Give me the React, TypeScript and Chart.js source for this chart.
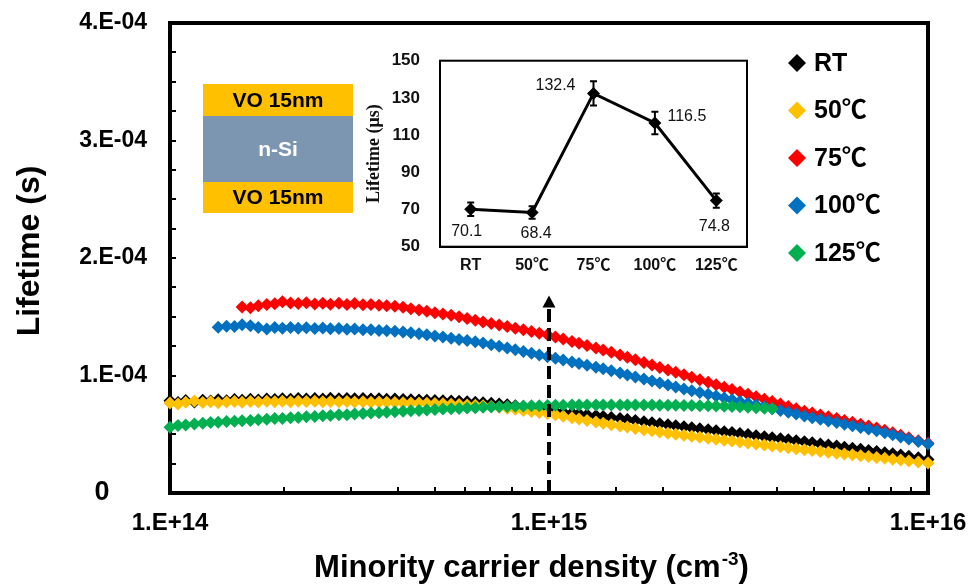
import React, { useEffect, useRef } from 'react';
import { Chart, registerables } from 'chart.js';

Chart.register(...registerables);

const FONT = "'Liberation Sans', Arial, 'Noto Sans CJK KR', sans-serif";
const SERIF = "'Liberation Serif', 'Times New Roman', serif";
Chart.defaults.font.family = FONT;

// Minority carrier density, in units of 1e14 cm^-3
const DENSITY = [
  1.00, 1.05, 1.10, 1.16, 1.22, 1.28, 1.34, 1.41, 1.48, 1.55,
  1.63, 1.71, 1.80, 1.89, 1.98, 2.08, 2.18, 2.29, 2.41, 2.53,
  2.65, 2.79, 2.93, 3.07, 3.23, 3.39, 3.56, 3.73, 3.92, 4.12,
  4.32, 4.54, 4.76, 5.00, 5.25, 5.52, 5.79, 6.08, 6.39, 6.70,
  7.04, 7.39, 7.76, 8.15, 8.56, 8.99, 9.43, 9.91, 10.4, 10.9,
  11.5, 12.0, 12.6, 13.3, 13.9, 14.6, 15.4, 16.1, 16.9, 17.8,
  18.7, 19.6, 20.6, 21.6, 22.7, 23.8, 25.0, 26.3, 27.6, 29.0,
  30.4, 31.9, 33.5, 35.2, 37.0, 38.8, 40.8, 42.8, 44.9, 47.2,
  49.5, 52.0, 54.6, 57.4, 60.2, 63.2, 66.4, 69.7, 73.2, 76.9,
  80.7, 84.7, 89.0, 94.3, 100,
];

// Lifetimes in microseconds (axis shows seconds)
const LIFETIME_RT = [
  78.5, 77.0, 78.8, 77.5, 79.0, 78.2, 79.4, 78.5, 79.6, 78.9,
  79.8, 79.2, 80.1, 79.5, 80.3, 79.8, 80.4, 80.0, 80.5, 80.1,
  80.6, 80.2, 80.5, 80.2, 80.4, 80.0, 80.2, 79.8, 79.9, 79.6,
  79.4, 79.2, 79.0, 78.8, 78.6, 78.3, 78.0, 77.7, 77.3, 76.9,
  76.3, 75.8, 75.1, 74.3, 73.4, 72.4, 71.4, 70.3, 69.5, 68.8,
  68.0, 67.4, 66.6, 65.8, 65.1, 64.3, 63.3, 62.5, 61.6, 60.7,
  59.8, 58.9, 58.0, 57.2, 56.4, 55.6, 54.7, 53.9, 53.0, 52.2,
  51.4, 50.6, 49.7, 48.8, 47.9, 47.1, 46.2, 45.3, 44.5, 43.6,
  42.7, 41.8, 40.9, 39.9, 39.0, 38.1, 37.2, 36.2, 35.3, 34.3,
  33.4, 32.4, 31.2, 29.9, 28.5,
];

const LIFETIME_50 = [
  76.5, 75.8, 77.2, 78.4, 77.0, 77.6, 76.8, 77.5, 77.9, 77.2,
  77.8, 77.4, 78.0, 77.6, 78.1, 77.7, 78.0, 77.8, 78.1, 77.7,
  77.9, 77.6, 77.8, 77.5, 77.6, 77.3, 77.4, 77.2, 77.1, 76.9,
  76.7, 76.5, 76.3, 76.1, 75.9, 75.6, 75.3, 75.0, 74.7, 74.3,
  73.6, 72.9, 72.1, 71.2, 70.3, 69.4, 68.5, 67.6, 66.5, 65.4,
  64.0, 63.0, 61.8, 60.4, 59.3, 58.1, 57.0, 56.1, 55.0, 53.9,
  52.9, 51.9, 50.8, 49.9, 49.1, 48.3, 47.5, 46.6, 45.8, 45.0,
  44.2, 43.4, 42.6, 41.8, 40.9, 40.1, 39.3, 38.5, 37.7, 36.9,
  36.1, 35.4, 34.7, 33.9, 33.2, 32.5, 31.7, 31.0, 30.3, 29.5,
  28.8, 28.0, 27.3, 26.4, 25.5,
];

const LIFETIME_75 = [
  null, null, null, null, null, null, null, null, null, 158.3,
  157.6, 159.3, 160.4, 161.0, 162.8, 161.6, 161.2, 162.0, 160.8, 161.5,
  160.6, 161.4, 160.5, 161.2, 160.3, 160.4, 159.7, 159.4, 158.9, 158.0,
  156.9, 155.8, 154.7, 153.5, 152.4, 151.3, 150.0, 148.6, 147.1, 145.6,
  144.2, 142.9, 141.6, 140.3, 138.9, 137.4, 136.0, 134.6, 132.8, 131.0,
  129.0, 127.4, 125.6, 123.5, 121.8, 119.8, 117.5, 115.5, 113.4, 111.1,
  109.0, 106.9, 104.7, 102.7, 100.6, 98.5, 96.4, 94.2, 92.2, 90.0,
  88.0, 86.0, 84.0, 81.9, 79.8, 77.8, 75.7, 73.7, 71.7, 69.6,
  68.0, 66.4, 64.9, 63.3, 61.7, 60.2, 58.6, 57.0, 55.4, 53.3,
  51.2, 49.1, 47.0, 44.5, 42.4,
];

const LIFETIME_100 = [
  null, null, null, null, null, null, 141.0, 142.0, 141.6, 143.2,
  142.4, 140.8, 139.6, 140.9, 140.2, 140.8, 140.3, 140.6, 140.1, 140.4,
  139.8, 140.1, 139.4, 139.5, 138.9, 138.9, 138.3, 138.1, 137.6, 137.1,
  136.3, 135.5, 134.6, 133.7, 132.7, 131.7, 130.7, 129.7, 128.7, 127.6,
  126.2, 124.8, 123.4, 122.0, 120.5, 119.0, 117.5, 116.0, 114.6, 113.1,
  111.5, 110.2, 108.7, 107.1, 105.7, 104.0, 102.1, 100.5, 98.8, 97.0,
  95.3, 93.6, 91.9, 90.2, 88.6, 87.1, 85.6, 84.0, 82.5, 80.9,
  79.4, 77.9, 76.4, 74.8, 73.3, 71.8, 70.2, 68.7, 67.2, 65.6,
  64.1, 62.7, 61.3, 59.9, 58.5, 57.2, 55.8, 54.4, 53.0, 51.2,
  49.5, 47.7, 45.9, 43.8, 41.7,
];

const LIFETIME_125 = [
  56.0, 57.5, 57.9, 58.8, 59.3, 59.9, 60.2, 60.8, 61.0, 61.5,
  61.8, 62.4, 62.7, 63.3, 63.5, 64.1, 64.3, 64.9, 65.2, 65.7,
  65.9, 66.5, 66.7, 67.2, 67.6, 68.0, 68.4, 68.8, 69.1, 69.6,
  69.9, 70.3, 70.7, 71.0, 71.4, 71.6, 72.0, 72.3, 72.6, 72.9,
  73.1, 73.4, 73.6, 73.8, 74.0, 74.2, 74.3, 74.5, 74.6, 74.7,
  74.8, 74.8, 74.9, 74.9, 74.9, 75.0, 74.9, 74.9, 74.9, 74.8,
  74.8, 74.7, 74.7, 74.6, 74.5, 74.4, 74.3, 74.2, 74.0, 73.8,
  73.6, 73.3, 73.0, 72.6, 72.1, 71.6, null, null, null, null,
  null, null, null, null, null, null, null, null, null, null,
  null, null, null, null, null,
];

const SERIES_LABELS = ['RT', '50℃', '75℃', '100℃', '125℃'];
const SERIES_VALUES = [LIFETIME_RT, LIFETIME_50, LIFETIME_75, LIFETIME_100, LIFETIME_125];
const SERIES_COLORS = ['#000000', '#FFC000', '#FF0000', '#0070C0', '#00B050'];
const SERIES_ORDER = [5, 3, 4, 2, 1];

const X_MIN = 1e14;
const X_MAX = 1e16;
const Y_MIN = 0;
const Y_MAX = 400; // µs
const Y_STEP = 25;
const ARROW_X = 1e15;
const ARROW_TOP = 168; // µs

// Inset
const INSET_CATEGORIES = ['RT', '50℃', '75℃', '100℃', '125℃'];
const INSET_VALUES = [70.1, 68.4, 132.4, 116.5, 74.8];
const INSET_ERRORS = [3.6, 3.4, 6.5, 6.0, 3.8];
const INSET_Y_MIN = 50;
const INSET_Y_MAX = 150;
const INSET_Y_STEP = 20;

const LAYERS = ['VO 15nm', 'n-Si', 'VO 15nm'];

const mainDecor = {
  id: 'mainDecor',
  beforeDatasetsDraw(chart: any) {
    const { ctx, chartArea: a } = chart;
    ctx.save();
    ctx.strokeStyle = '#000';
    ctx.lineWidth = 4;
    ctx.beginPath();
    ctx.moveTo(a.left - 2, a.top);
    ctx.lineTo(a.right, a.top);
    ctx.lineTo(a.right, a.bottom + 2);
    ctx.stroke();

    // layer stack diagram
    const lx = 203, lw = 150;
    const rows = [
      { y: 84, h: 32, fill: '#FFC000', text: '#000' },
      { y: 116, h: 66, fill: '#7C96B2', text: '#fff' },
      { y: 182, h: 31, fill: '#FFC000', text: '#000' },
    ];
    ctx.font = `bold 21px ${FONT}`;
    ctx.textAlign = 'center';
    ctx.textBaseline = 'middle';
    rows.forEach((r, i) => {
      ctx.fillStyle = r.fill;
      ctx.fillRect(lx, r.y, lw, r.h);
      ctx.fillStyle = r.text;
      ctx.fillText(LAYERS[i], lx + lw / 2, r.y + r.h / 2 + 1);
    });
    ctx.restore();
  },
  afterDatasetsDraw(chart: any) {
    const { ctx, chartArea: a } = chart;
    const x = chart.scales.x.getPixelForValue(ARROW_X);
    const yTop = chart.scales.y.getPixelForValue(ARROW_TOP);
    ctx.save();
    ctx.strokeStyle = '#000';
    ctx.lineWidth = 4;
    ctx.setLineDash([13, 6]);
    ctx.beginPath();
    ctx.moveTo(x, a.bottom);
    ctx.lineTo(x, yTop + 10);
    ctx.stroke();
    ctx.setLineDash([]);
    ctx.fillStyle = '#000';
    ctx.beginPath();
    ctx.moveTo(x, yTop);
    ctx.lineTo(x - 6.5, yTop + 12);
    ctx.lineTo(x + 6.5, yTop + 12);
    ctx.closePath();
    ctx.fill();
    ctx.restore();
  },
  afterDraw(chart: any) {
    const { ctx } = chart;
    ctx.save();
    // legend
    ctx.textAlign = 'left';
    ctx.textBaseline = 'middle';
    ctx.font = `bold 25px ${FONT}`;
    SERIES_LABELS.forEach((lab, i) => {
      const cy = 63 + i * 47.5;
      const cx = 797;
      const r = 9;
      ctx.fillStyle = SERIES_COLORS[i];
      ctx.beginPath();
      ctx.moveTo(cx, cy - r);
      ctx.lineTo(cx + r, cy);
      ctx.lineTo(cx, cy + r);
      ctx.lineTo(cx - r, cy);
      ctx.closePath();
      ctx.fill();
      ctx.fillStyle = '#000';
      ctx.fillText(lab, 814, cy + 1);
    });

    // y title
    ctx.save();
    ctx.translate(30, 251);
    ctx.rotate(-Math.PI / 2);
    ctx.textAlign = 'center';
    ctx.textBaseline = 'middle';
    ctx.font = `bold 32px ${FONT}`;
    ctx.fillText('Lifetime (s)', 0, 0);
    ctx.restore();

    // x title with superscript
    const t1 = 'Minority carrier density (cm';
    const sup = '-3';
    const t2 = ')';
    ctx.textAlign = 'left';
    ctx.textBaseline = 'alphabetic';
    ctx.font = `bold 31px ${FONT}`;
    const w1 = ctx.measureText(t1).width;
    const w3 = ctx.measureText(t2).width;
    ctx.font = `bold 19px ${FONT}`;
    const w2 = ctx.measureText(sup).width;
    const x0 = 531 - (w1 + w2 + w3) / 2;
    const base = 577;
    ctx.font = `bold 31px ${FONT}`;
    ctx.fillText(t1, x0, base);
    ctx.fillText(t2, x0 + w1 + w2 + 1, base);
    ctx.font = `bold 19px ${FONT}`;
    ctx.fillText(sup, x0 + w1 + 1, base - 12);
    ctx.restore();
  },
};

const INSET_LABEL_OFFSETS = [[-4, 22], [4, 21], [-38, -8], [32, -6], [-2, 26]];

const insetDecor = {
  id: 'insetDecor',
  beforeDatasetsDraw(chart: any) {
    const { ctx, chartArea: a } = chart;
    ctx.save();
    ctx.strokeStyle = '#000';
    ctx.lineWidth = 2;
    ctx.strokeRect(a.left, a.top, a.right - a.left, a.bottom - a.top);
    ctx.restore();
  },
  afterDatasetsDraw(chart: any) {
    const { ctx } = chart;
    const xs = chart.scales.x;
    const ys = chart.scales.y;
    ctx.save();
    ctx.strokeStyle = '#000';
    ctx.lineWidth = 2;
    INSET_VALUES.forEach((v, i) => {
      const x = xs.getPixelForValue(i);
      const y1 = ys.getPixelForValue(v + INSET_ERRORS[i]);
      const y2 = ys.getPixelForValue(v - INSET_ERRORS[i]);
      ctx.beginPath();
      ctx.moveTo(x, y1);
      ctx.lineTo(x, y2);
      ctx.moveTo(x - 3.5, y1);
      ctx.lineTo(x + 3.5, y1);
      ctx.moveTo(x - 3.5, y2);
      ctx.lineTo(x + 3.5, y2);
      ctx.stroke();
    });
    ctx.fillStyle = '#111';
    ctx.font = `16px ${FONT}`;
    ctx.textAlign = 'center';
    ctx.textBaseline = 'middle';
    INSET_VALUES.forEach((v, i) => {
      const x = xs.getPixelForValue(i);
      const y = ys.getPixelForValue(v);
      ctx.fillText(v.toFixed(1), x + INSET_LABEL_OFFSETS[i][0], y + INSET_LABEL_OFFSETS[i][1]);
    });
    ctx.restore();
  },
};

function sciLabelX(v: number) {
  const e = Math.round(Math.log10(v));
  const p = Math.pow(10, e);
  return Math.abs(v - p) < p * 1e-6 ? `1.E+${e}` : '';
}

function sciLabelY(v: number) {
  if (v % 100 !== 0) return '';
  if (v === 0) return '0     ';
  return `${v / 100}.E-04`;
}

export default function App() {
  const mainRef = useRef<HTMLCanvasElement>(null);
  const insetRef = useRef<HTMLCanvasElement>(null);

  useEffect(() => {
    const datasets = SERIES_LABELS.map((label, s) => ({
      label,
      data: DENSITY.map((d, i) => ({ x: d * 1e14, y: SERIES_VALUES[s][i] })).filter((p) => p.y !== null),
      showLine: false,
      pointStyle: 'rectRot',
      pointRadius: 6.5,
      pointBorderWidth: 0,
      pointBackgroundColor: SERIES_COLORS[s],
      backgroundColor: SERIES_COLORS[s],
      borderColor: SERIES_COLORS[s],
      order: SERIES_ORDER[s],
      clip: false,
    }));

    const main = new Chart(mainRef.current as HTMLCanvasElement, {
      type: 'scatter',
      data: { datasets } as any,
      options: {
        responsive: true,
        maintainAspectRatio: false,
        animation: false,
        events: [],
        layout: { padding: { left: 0, right: 48, top: 23, bottom: 0 } },
        plugins: { legend: { display: false }, tooltip: { enabled: false } },
        scales: {
          x: {
            type: 'logarithmic',
            min: X_MIN,
            max: X_MAX,
            afterFit: (s: any) => {
              s.height = 95;
              s.paddingLeft = 0;
              s.paddingRight = 0;
            },
            border: { display: true, color: '#000', width: 4 },
            grid: { display: true, drawOnChartArea: false, drawTicks: true, tickLength: -6, color: '#000', lineWidth: 2 },
            ticks: {
              autoSkip: false,
              maxRotation: 0,
              minRotation: 0,
              padding: 22,
              color: '#000',
              font: { family: FONT, size: 24, weight: 'bold' },
              callback: (v: any) => sciLabelX(Number(v)),
            },
          },
          y: {
            type: 'linear',
            min: Y_MIN,
            max: Y_MAX,
            afterFit: (s: any) => {
              s.width = 170;
              s.paddingTop = 0;
              s.paddingBottom = 0;
            },
            border: { display: true, color: '#000', width: 4 },
            grid: { display: true, drawOnChartArea: false, drawTicks: true, tickLength: -6, color: '#000', lineWidth: 2 },
            ticks: {
              stepSize: Y_STEP,
              autoSkip: false,
              padding: 29,
              color: '#000',
              font: (c: any) => (c.tick && c.tick.value === 0
                ? { family: FONT, size: 27, weight: 'bold' }
                : { family: FONT, size: 23, weight: 'bold' }),
              callback: (v: any) => sciLabelY(Number(v)),
            },
          },
        },
      } as any,
      plugins: [mainDecor],
    });

    const inset = new Chart(insetRef.current as HTMLCanvasElement, {
      type: 'line',
      data: {
        labels: INSET_CATEGORIES,
        datasets: [{
          data: INSET_VALUES,
          borderColor: '#000',
          borderWidth: 3,
          pointStyle: 'rectRot',
          pointRadius: 6.5,
          pointBorderWidth: 0,
          pointBackgroundColor: '#000',
          tension: 0,
        }],
      },
      options: {
        responsive: true,
        maintainAspectRatio: false,
        animation: false,
        events: [],
        layout: { padding: { left: 0, right: 13, top: 20.7, bottom: 0 } },
        plugins: { legend: { display: false }, tooltip: { enabled: false } },
        scales: {
          x: {
            type: 'category',
            offset: true,
            afterFit: (s: any) => {
              s.height = 43.3;
              s.paddingLeft = 0;
              s.paddingRight = 0;
            },
            border: { display: true, color: '#000', width: 2 },
            grid: { display: false },
            ticks: { padding: 1, color: '#111', font: { family: FONT, size: 16, weight: 'bold' } },
          },
          y: {
            min: INSET_Y_MIN,
            max: INSET_Y_MAX,
            afterFit: (s: any) => {
              s.width = 100;
              s.paddingTop = 0;
              s.paddingBottom = 0;
            },
            border: { display: true, color: '#000', width: 2 },
            grid: { display: false },
            ticks: { stepSize: INSET_Y_STEP, padding: 12, color: '#111', font: { family: FONT, size: 17, weight: 'bold' } },
            title: {
              display: true,
              text: 'Lifetime (μs)',
              color: '#111',
              font: { family: SERIF, size: 18, weight: 'bold' },
              padding: { top: 24, bottom: 0 },
            },
          },
        },
      } as any,
      plugins: [insetDecor],
    });

    return () => {
      main.destroy();
      inset.destroy();
    };
  }, []);

  return (
    <div style={{ position: 'fixed', left: 0, top: 0, width: 976, height: 588, background: '#fff' }}>
      <div style={{ position: 'absolute', left: 0, top: 0, width: 976, height: 588 }}>
        <canvas ref={mainRef} />
      </div>
      <div style={{ position: 'absolute', left: 340, top: 40, width: 420, height: 250 }}>
        <canvas ref={insetRef} />
      </div>
    </div>
  );
}
